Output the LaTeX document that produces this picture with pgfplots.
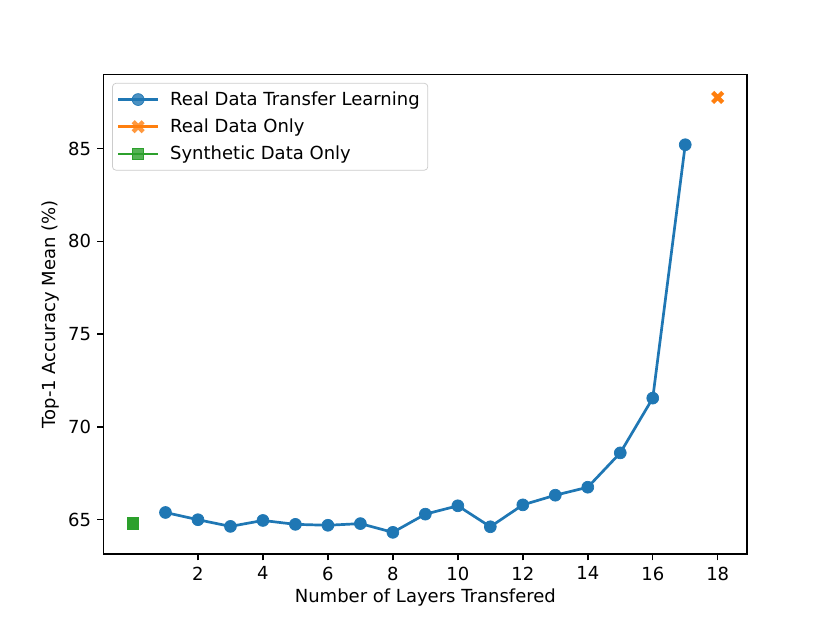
\documentclass[border=0pt]{standalone}
\usepackage{fontspec}
\setmainfont{DejaVu Sans}
\usepackage{pgfplots}
\pgfplotsset{compat=1.18}
\definecolor{C0}{HTML}{1F77B4}
\definecolor{C1}{HTML}{FF7F0E}
\definecolor{C2}{HTML}{2CA02C}
\pgfdeclareplotmark{Xfill}{%
  \pgfmathsetlengthmacro{\rr}{1.2*\pgfplotmarksize}%
  \pgfmathsetlengthmacro{\ww}{0.37*\pgfplotmarksize}%
  \pgftransformrotate{45}%
  \pgfpathmoveto{\pgfpoint{\ww}{\ww}}%
  \pgfpathlineto{\pgfpoint{\ww}{\rr}}%
  \pgfpathlineto{\pgfpoint{-\ww}{\rr}}%
  \pgfpathlineto{\pgfpoint{-\ww}{\ww}}%
  \pgfpathlineto{\pgfpoint{-\rr}{\ww}}%
  \pgfpathlineto{\pgfpoint{-\rr}{-\ww}}%
  \pgfpathlineto{\pgfpoint{-\ww}{-\ww}}%
  \pgfpathlineto{\pgfpoint{-\ww}{-\rr}}%
  \pgfpathlineto{\pgfpoint{\ww}{-\rr}}%
  \pgfpathlineto{\pgfpoint{\ww}{-\ww}}%
  \pgfpathlineto{\pgfpoint{\rr}{-\ww}}%
  \pgfpathlineto{\pgfpoint{\rr}{\ww}}%
  \pgfpathclose
  \pgfusepathqfill
}
\begin{document}
\begin{tikzpicture}
\useasboundingbox (-57.6pt,-38.0pt) rectangle (403.2pt,307.6pt);
\begin{axis}[
  at={(0,0)}, anchor=south west,
  scale only axis,
  width=357.1pt, height=266.1pt,
  xmin=-0.9, xmax=18.9,
  ymin=63.15, ymax=88.97,
  xtick={2,4,...,18},
  ytick={65,70,75,80,85},
  tick align=outside,
  tick pos=left,
  major tick length=3.5pt,
  every tick/.style={black, line width=0.8pt},
  axis line style={line width=0.8pt},
  /pgf/number format/assume math mode=true,
  tick label style={font=\fontsize{10}{12}\selectfont},
  label style={font=\fontsize{10}{12}\selectfont},
  xlabel={Number of Layers Transfered},
  ylabel={Top-1 Accuracy Mean (\%)},
  xlabel style={yshift=2pt},
  ylabel style={yshift=-2pt},
  legend cell align=left,
  legend style={font=\fontsize{10}{12}\selectfont, draw=black!20, rounded corners=2pt, fill=white, fill opacity=0.8, text opacity=1, at={(0.013,0.983)}, anchor=north west, inner sep=2.5pt, row sep=2pt, column sep=4pt},
  legend image code/.code={\draw[line width=1.5pt, mark repeat=2,mark phase=2] plot coordinates {(0pt,0pt)(11pt,0pt)(22pt,0pt)};},
]
\addplot[color=C0, line width=1.5pt, mark=*, mark size=3.3pt, mark options={solid, line width=0.4pt}] coordinates {
(1,65.39) (2,65.00) (3,64.64) (4,64.96) (5,64.75) (6,64.70) (7,64.79) (8,64.32)
(9,65.30) (10,65.75) (11,64.62) (12,65.80) (13,66.32) (14,66.75) (15,68.60)
(16,71.55) (17,85.20)};
\addlegendentry{Real Data Transfer Learning}
\addplot[color=C1, line width=1.5pt, mark=Xfill, mark size=3.3pt, mark options={solid, line width=0.4pt}] coordinates {(18,87.75)};
\addlegendentry{Real Data Only}
\addplot[color=C2, line width=1.5pt, mark=square*, mark size=3.1pt, mark options={solid, line width=0.4pt}] coordinates {(0,64.80)};
\addlegendentry{Synthetic Data Only}
\end{axis}
\end{tikzpicture}
\end{document}
